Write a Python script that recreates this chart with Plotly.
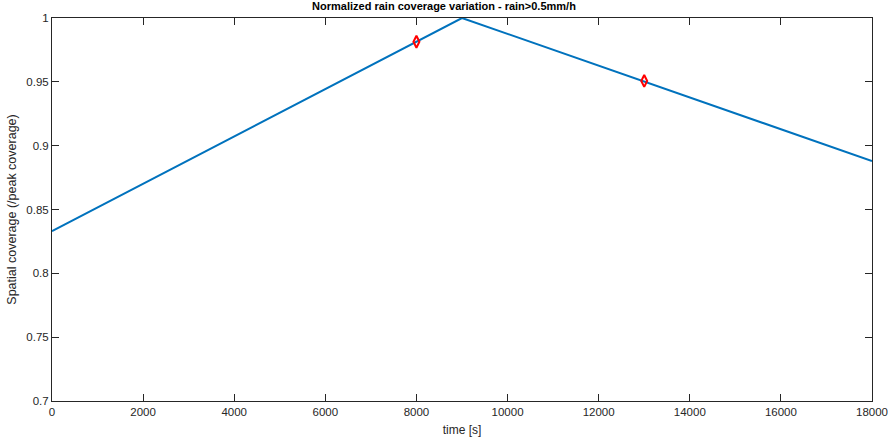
import plotly.graph_objects as go

time_s = [0, 9000, 18000]
coverage = [0.833, 1.0, 0.888]
marker_time = [8000, 13000]
marker_cov = [0.9814, 0.9507]

x_ticks = list(range(0, 18001, 2000))
y_ticks = [0.7, 0.75, 0.8, 0.85, 0.9, 0.95, 1]
y_labels = ["0.7", "0.75", "0.8", "0.85", "0.9", "0.95", "1"]

FONT = "Liberation Sans, Arial"

fig = go.Figure()
fig.add_trace(go.Scatter(x=time_s, y=coverage, mode="lines",
                         line=dict(color="#0072BD", width=2), showlegend=False))
fig.add_trace(go.Scatter(x=marker_time, y=marker_cov, mode="markers",
                         marker=dict(symbol="diamond-tall-open", color="red", size=8.5,
                                     line=dict(width=2, color="red")),
                         showlegend=False))

axis_common = dict(showgrid=False, zeroline=False, showline=True, linecolor="#262626",
                   linewidth=1, mirror="ticks", ticks="inside", ticklen=7,
                   tickcolor="#262626", automargin=False,
                   tickfont=dict(family=FONT, size=11.5, color="#262626"))

fig.update_layout(
    width=888, height=438,
    margin=dict(l=52, r=16, t=18, b=37),
    paper_bgcolor="white", plot_bgcolor="white",
    title=dict(text="<b>Normalized rain coverage variation - rain>0.5mm/h</b>",
               x=0.5, xanchor="center", y=0.995, yanchor="top",
               font=dict(family=FONT, size=11, color="black")),
    xaxis=dict(range=[0, 18000], tickvals=x_ticks, ticktext=[str(v) for v in x_ticks],
               title=dict(text="time [s]", standoff=8,
                          font=dict(family=FONT, size=12, color="#262626")),
               **axis_common),
    yaxis=dict(range=[0.7, 1.0], tickvals=y_ticks, ticktext=y_labels,
               title=dict(text="Spatial coverage (/peak coverage)", standoff=6,
                          font=dict(family=FONT, size=12.5, color="#262626")),
               **axis_common),
)

fig.write_html("out.html")
